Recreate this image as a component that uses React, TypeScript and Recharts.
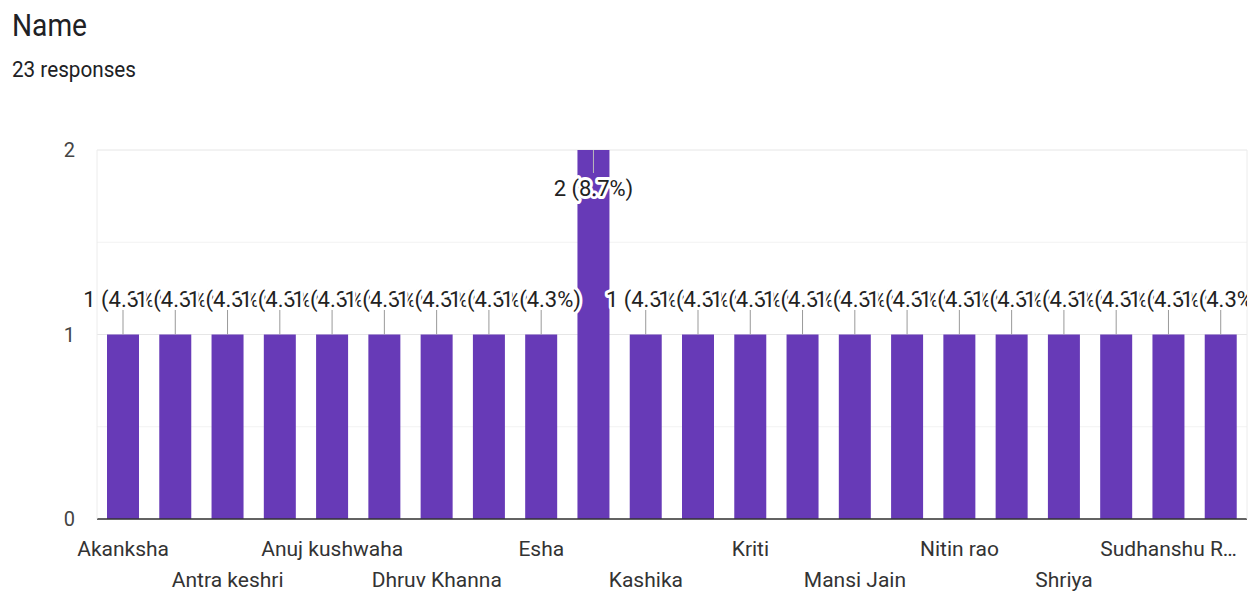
import React from 'react';
import { BarChart, Bar, XAxis, YAxis, CartesianGrid, LabelList } from 'recharts';

// responses per respondent name (alphabetical, as in the form summary)
const names = [
  'Akanksha', 'Anjali', 'Antra keshri', 'Anu', 'Anuj kushwaha', 'Ayush',
  'Dhruv Khanna', 'Divya', 'Esha', 'Harsh', 'Kashika', 'Khushi', 'Kriti',
  'Kunal', 'Mansi Jain', 'Neha', 'Nitin rao', 'Priya', 'Shriya', 'Simran',
  'Sudhanshu Rathore', 'Tanya',
];
const counts = [1, 1, 1, 1, 1, 1, 1, 1, 1, 2, 1, 1, 1, 1, 1, 1, 1, 1, 1, 1, 1, 1];
const yTicks = [0, 0.5, 1, 1.5, 2];

const data = names.map((name, i) => ({ name, count: counts[i] }));
const total = counts.reduce((s, c) => s + c, 0);

const W = 1260;
const H = 594;
const TOP = 150;
const RIGHT_AXIS_W = 13;
const PLOT_RIGHT = W - RIGHT_AXIS_W;
const FONT = 'Roboto, "Noto Sans", Arial, sans-serif';
const PURPLE = '#673ab7';

let ctx: CanvasRenderingContext2D | null = null;
const measure = (s: string, size: number) => {
  if (!ctx) ctx = document.createElement('canvas').getContext('2d');
  if (!ctx) return s.length * size * 0.5;
  ctx.font = `${size}px Roboto`;
  return ctx.measureText(s).width;
};

// shorten a tick label with an ellipsis when it would run past the plot edge
const fitLabel = (s: string, cx: number) => {
  const limit = PLOT_RIGHT - 8;
  if (cx + measure(s, 21) / 2 <= limit) return s;
  let t = s;
  while (t.length > 1) {
    t = t.slice(0, -1);
    const c = t.trimEnd() + '…';
    if (cx + measure(c, 21) / 2 <= limit) return c;
  }
  return t;
};

const NameTick = (props: any) => {
  const { x, y, payload, index } = props;
  if (index % 2 !== 0) return null;
  const row = (index / 2) % 2;
  return (
    <text
      x={x}
      y={y + (row === 0 ? 35 : 66)}
      textAnchor="middle"
      fontFamily={FONT}
      fontSize={21}
      fill="#333"
    >
      {fitLabel(payload.value, x)}
    </text>
  );
};

const Annotation = (props: any) => {
  const { x, y, width, value, index } = props;
  const cx = x + width / 2;
  const pct = ((value / total) * 100).toFixed(1);
  const above = y - 50 >= TOP - 5;
  const stemEnd = above ? y - 25 : y + 23;
  const baseY = above ? y - 28 : y + 46;
  return (
    <g>
      {index === 0 && (
        <defs>
          <clipPath id="annClip">
            <rect x={0} y={0} width={PLOT_RIGHT} height={H} />
          </clipPath>
        </defs>
      )}
      <g clipPath="url(#annClip)">
        <line x1={cx} x2={cx} y1={y} y2={stemEnd} stroke={above ? '#999' : '#bbb'} strokeWidth={1} />
        <text
          x={cx}
          y={baseY}
          textAnchor="middle"
          fontFamily={FONT}
          fontSize={22}
          fill="#222"
          stroke="#fff"
          strokeWidth={6}
          strokeLinejoin="round"
          style={{ paintOrder: 'stroke' }}
        >
          {`${value} (${pct}%)`}
        </text>
      </g>
    </g>
  );
};

const gridLine = (p: any) => {
  const major = p.index % 2 === 0;
  return (
    <line
      key={p.key}
      x1={p.x1}
      x2={p.x2}
      y1={p.y1}
      y2={p.y2}
      stroke={major ? '#e6e6e6' : '#f2f2f2'}
      strokeWidth={1}
    />
  );
};

export default function App() {
  return (
    <div style={{ position: 'absolute', left: 0, top: 0, width: W, height: H, background: '#fff', overflow: 'hidden' }}>
      <div
        style={{
          position: 'absolute', left: 12, top: 9, fontFamily: FONT, fontSize: 32, lineHeight: '32px',
          color: '#202124', transform: 'scaleX(0.88)', transformOrigin: 'left',
        }}
      >
        Name
      </div>
      <div
        style={{
          position: 'absolute', left: 12, top: 59, fontFamily: FONT, fontSize: 22, lineHeight: '22px',
          color: '#202124', transform: 'scaleX(0.94)', transformOrigin: 'left',
        }}
      >
        {`${total} responses`}
      </div>
      <BarChart width={W} height={H} data={data} margin={{ top: TOP, right: 0, left: 0, bottom: 0 }}>
        <CartesianGrid vertical={false} horizontal={gridLine} />
        <XAxis
          dataKey="name"
          height={75}
          interval={0}
          tickLine={false}
          tickSize={0}
          axisLine={{ stroke: '#333', strokeWidth: 1.5 }}
          tick={NameTick}
        />
        <YAxis
          width={97}
          domain={[0, 2]}
          ticks={yTicks}
          tickFormatter={(v: number) => (Number.isInteger(v) ? String(v) : '')}
          tickLine={false}
          tickSize={0}
          tickMargin={22}
          axisLine={{ stroke: '#ececec' }}
          tick={{ fontFamily: FONT, fontSize: 20, fill: '#444' }}
        />
        <YAxis
          yAxisId="r"
          orientation="right"
          width={RIGHT_AXIS_W}
          domain={[0, 2]}
          tick={false}
          tickLine={false}
          axisLine={{ stroke: '#ececec' }}
        />
        <Bar dataKey="count" fill={PURPLE} barSize={32} isAnimationActive={false}>
          <LabelList dataKey="count" content={Annotation} />
        </Bar>
      </BarChart>
    </div>
  );
}
